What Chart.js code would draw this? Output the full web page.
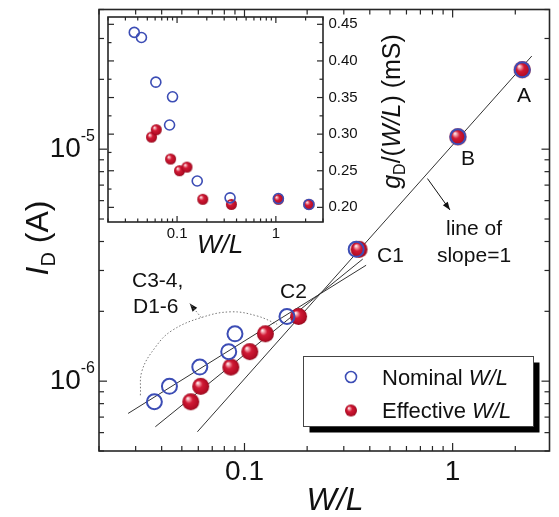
<!DOCTYPE html>
<html>
<head>
<meta charset="utf-8">
<script src="https://cdn.jsdelivr.net/npm/chart.js@4"></script>
<style>
  body { margin: 0; background: #fff; }
  #wrap { position: relative; width: 559px; height: 517px; }
  #wrap canvas { position: absolute; left: 0; top: 0; }
</style>
</head>
<body>
<div id="wrap">
  <canvas id="main" width="559" height="517"></canvas>
  <canvas id="inset" width="559" height="517"></canvas>
</div>
<script>
// same devices, nominal vs effective W/L
const nominalWL    = [0.0369, 0.0436, 0.061, 0.084, 0.090, 0.160, 0.344, 1.06, 2.16];
const effectiveWL  = [0.0552, 0.0616, 0.086, 0.106, 0.126, 0.182, 0.355, 1.06, 2.16];
const drainCurrent = [8.15e-7, 9.5e-7, 1.15e-6, 1.34e-6, 1.60e-6, 1.90e-6, 3.7e-6, 1.13e-5, 2.2e-5];
// inset: gD/(W/L) in mS
const gdNominal   = [0.439, 0.432, 0.371, 0.3125, 0.351, 0.236, 0.213, 0.212, 0.204];
const gdEffective = [0.296, 0.306, 0.266, 0.250, 0.255, 0.211, 0.204, 0.211, 0.204];

// fitted lines, end points
const fitNominalX   = [0.0276, 0.384];
const fitNominalY   = [7.26e-7, 3.16e-6];
const fitEffectiveX = [0.0373, 0.370];
const fitEffectiveY = [6.36e-7, 3.36e-6];
const slopeOneX     = [0.0594, 2.40];
const slopeOneY     = [6.05e-7, 2.52e-5];

// dotted bracket round C3-4, D1-6 and the two arrows
const arcX = [0.0316, 0.0322, 0.0373, 0.0447, 0.0620, 0.0861, 0.115, 0.1435];
const arcY = [8.69e-7, 1.11e-6, 1.40e-6, 1.65e-6, 1.88e-6, 1.99e-6, 1.91e-6, 1.76e-6];
const arcArrowX = [0.062, 0.0546];
const arcArrowY = [1.88e-6, 2.16e-6];
const slopeArrowX = [0.757, 0.971];
const slopeArrowY = [7.47e-6, 5.47e-6];

// ticks
const mainXMajor = [0.1, 1];
const mainXLabels = ['0.1', '1'];
const mainYMajor = [1e-6, 1e-5];
const mainYExp = ['-6', '-5'];
const insetXMajor = [0.1, 1];
const insetXLabels = ['0.1', '1'];
const insetYMajor = [0.20, 0.25, 0.30, 0.35, 0.40, 0.45];
const insetYLabels = ['0.20', '0.25', '0.30', '0.35', '0.40', '0.45'];
const insetYMinor = [0.225, 0.275, 0.325, 0.375, 0.425];

const FONT = '"Liberation Sans", Arial, sans-serif';
const blue = '#3c4db5';

function logMinor(lo, hi) {
  let out = [];
  for (let e = Math.floor(Math.log10(lo)); e <= Math.ceil(Math.log10(hi)); e++) {
    for (let m = 2; m <= 9; m++) {
      let v = m * Math.pow(10, e);
      if (v >= lo && v <= hi) out.push(v);
    }
  }
  return out;
}

function pts(xs, ys) {
  return xs.map((x, i) => ({x: x, y: ys[i]}));
}

function sphere(r) {
  const c = document.createElement('canvas');
  const s = Math.ceil(r * 2 + 2);
  c.width = c.height = s;
  const g = c.getContext('2d');
  const cx = s / 2, cy = s / 2;
  const grad = g.createRadialGradient(cx - r * 0.38, cy - r * 0.42, r * 0.04, cx, cy, r);
  grad.addColorStop(0, '#fff6f6');
  grad.addColorStop(0.16, '#f3a0aa');
  grad.addColorStop(0.42, '#d11a35');
  grad.addColorStop(0.85, '#b40c25');
  grad.addColorStop(1, '#900a1d');
  g.fillStyle = grad;
  g.beginPath();
  g.arc(cx, cy, r, 0, Math.PI * 2);
  g.fill();
  return c;
}

// text made of pieces with own font and vertical shift
function rich(ctx, parts, x, y, align) {
  let w = 0;
  parts.forEach(p => { ctx.font = p[1]; w += ctx.measureText(p[0]).width; });
  let cx = align == 'center' ? x - w / 2 : align == 'right' ? x - w : x;
  ctx.textAlign = 'left';
  ctx.textBaseline = 'alphabetic';
  parts.forEach(p => {
    ctx.font = p[1];
    ctx.fillText(p[0], cx, y + (p[2] || 0));
    cx += ctx.measureText(p[0]).width;
  });
}

function line(ctx, x1, y1, x2, y2) {
  ctx.beginPath();
  ctx.moveTo(x1, y1);
  ctx.lineTo(x2, y2);
  ctx.stroke();
}

// box + inward ticks on all four sides
function frameTicks(chart, xMajor, xMinor, yMajor, yMinor, bigLen, smallLen) {
  const {ctx, chartArea: a, scales: {x, y}} = chart;
  ctx.save();
  ctx.strokeStyle = '#262626';
  ctx.lineWidth = 1.6;
  ctx.strokeRect(a.left, a.top, a.width, a.height);
  ctx.lineWidth = 1.2;
  const tx = (v, len) => {
    const p = x.getPixelForValue(v);
    line(ctx, p, a.bottom, p, a.bottom - len);
    line(ctx, p, a.top, p, a.top + len);
  };
  const ty = (v, len) => {
    const p = y.getPixelForValue(v);
    line(ctx, a.left, p, a.left + len, p);
    line(ctx, a.right, p, a.right - len, p);
  };
  xMajor.forEach(v => tx(v, bigLen));
  xMinor.forEach(v => tx(v, smallLen));
  yMajor.forEach(v => ty(v, bigLen));
  yMinor.forEach(v => ty(v, smallLen));
  ctx.restore();
}

function arrowHead(ctx, from, to, len, wid) {
  const ang = Math.atan2(to.y - from.y, to.x - from.x);
  ctx.save();
  ctx.translate(to.x, to.y);
  ctx.rotate(ang);
  ctx.beginPath();
  ctx.moveTo(0, 0);
  ctx.lineTo(-len, -wid / 2);
  ctx.lineTo(-len, wid / 2);
  ctx.closePath();
  ctx.fill();
  ctx.restore();
}

const mainPlugin = {
  id: 'mainDeco',
  beforeDatasetsDraw(chart) {
    const {ctx} = chart;
    // arrow heads at the end of flagged datasets
    ctx.save();
    ctx.fillStyle = '#111';
    chart.data.datasets.forEach((ds, i) => {
      if (!ds.arrow) return;
      const el = chart.getDatasetMeta(i).data;
      arrowHead(ctx, el[el.length - 2], el[el.length - 1], 8, 6);
    });
    ctx.restore();
  },
  afterDatasetsDraw(chart) {
    const {ctx, scales: {x, y}} = chart;
    frameTicks(chart, mainXMajor, logMinor(0.02, 2.92).filter(v => !mainXMajor.includes(v)),
      mainYMajor, logMinor(5e-7, 4e-5).filter(v => !mainYMajor.includes(v)), 8, 5);

    ctx.save();
    ctx.fillStyle = '#111';
    mainXMajor.forEach((v, i) => {
      rich(ctx, [[mainXLabels[i], '28px ' + FONT]], x.getPixelForValue(v), 480, 'center');
    });
    mainYMajor.forEach((v, i) => {
      const p = y.getPixelForValue(v);
      rich(ctx, [['10', '28px ' + FONT], [mainYExp[i], '16px ' + FONT, -16]], 95, p + 8, 'right');
    });
    rich(ctx, [['W/L', 'italic 32px ' + FONT]], 335, 510, 'center');
    ctx.save();
    ctx.translate(48, 238);
    ctx.rotate(-Math.PI / 2);
    rich(ctx, [['I', 'italic 32px ' + FONT], ['D', '20px ' + FONT, 7], [' (A)', '32px ' + FONT]], 0, 0, 'center');
    ctx.restore();

    // point labels
    const f = '21px ' + FONT;
    rich(ctx, [['A', f]], 524, 102, 'center');
    rich(ctx, [['B', f]], 468, 165, 'center');
    rich(ctx, [['C1', f]], 377, 262, 'left');
    rich(ctx, [['C2', f]], 280, 298, 'left');
    rich(ctx, [['C3-4,', f]], 132, 287, 'left');
    rich(ctx, [['D1-6', f]], 133, 313, 'left');
    rich(ctx, [['line of', f]], 474, 235, 'center');
    rich(ctx, [['slope=1', f]], 474, 262, 'center');

    // legend box with shadow
    const lx = 303.5, ly = 356.5, lw = 230, lh = 70;
    ctx.fillStyle = '#000';
    ctx.fillRect(lx + 6, ly + 6, lw, lh);
    ctx.fillStyle = '#fff';
    ctx.fillRect(lx, ly, lw, lh);
    ctx.strokeStyle = '#444';
    ctx.lineWidth = 1;
    ctx.strokeRect(lx, ly, lw, lh);
    ctx.strokeStyle = blue;
    ctx.lineWidth = 1.6;
    ctx.beginPath();
    ctx.arc(351, 377, 5.5, 0, Math.PI * 2);
    ctx.stroke();
    const s = sphere(6);
    ctx.drawImage(s, 351 - s.width / 2, 410.5 - s.height / 2);
    ctx.fillStyle = '#111';
    const lf = '22px ' + FONT, li = 'italic 22px ' + FONT;
    rich(ctx, [['Nominal ', lf], ['W/L', li]], 382, 385, 'left');
    rich(ctx, [['Effective ', lf], ['W/L', li]], 382, 418, 'left');
    ctx.restore();
  }
};

const insetPlugin = {
  id: 'insetDeco',
  beforeDatasetsDraw(chart) {
    const {ctx, chartArea: a} = chart;
    ctx.save();
    ctx.fillStyle = '#fff';
    ctx.fillRect(a.left, a.top, a.width, a.height);
    ctx.restore();
  },
  afterDatasetsDraw(chart) {
    const {ctx, chartArea: a, scales: {x, y}} = chart;
    frameTicks(chart, insetXMajor, logMinor(0.02, 3).filter(v => !insetXMajor.includes(v)),
      insetYMajor, insetYMinor, 6, 3.5);
    ctx.save();
    ctx.fillStyle = '#111';
    insetXMajor.forEach((v, i) => {
      rich(ctx, [[insetXLabels[i], '15px ' + FONT]], x.getPixelForValue(v), 238, 'center');
    });
    insetYMajor.forEach((v, i) => {
      ctx.font = '15px ' + FONT;
      ctx.textAlign = 'left';
      ctx.textBaseline = 'middle';
      ctx.fillText(insetYLabels[i], a.right + 5.5, y.getPixelForValue(v));
    });
    rich(ctx, [['W/L', 'italic 26px ' + FONT]], 220, 253, 'center');
    ctx.translate(400, 111.5);
    ctx.rotate(-Math.PI / 2);
    rich(ctx, [['g', 'italic 25px ' + FONT], ['D', '16px ' + FONT, 5], ['/(', '25px ' + FONT],
      ['W/L', 'italic 25px ' + FONT], [') (mS)', '25px ' + FONT]], 0, 0, 'center');
    ctx.restore();
  }
};

const lineSet = (xs, ys) => ({
  data: pts(xs, ys), showLine: true, borderColor: '#333', borderWidth: 1, pointRadius: 0
});

new Chart(document.getElementById('main'), {
  type: 'scatter',
  data: {
    datasets: [{
      label: 'Nominal W/L',
      data: pts(nominalWL, drainCurrent),
      pointStyle: 'circle',
      pointRadius: 7.5,
      pointBorderWidth: 2,
      pointBorderColor: blue,
      pointBackgroundColor: 'rgba(0,0,0,0)'
    }, {
      label: 'Effective W/L',
      data: pts(effectiveWL, drainCurrent),
      pointStyle: sphere(8.5),
      pointRadius: 8.5
    },
    lineSet(fitNominalX, fitNominalY),
    lineSet(fitEffectiveX, fitEffectiveY),
    lineSet(slopeOneX, slopeOneY),
    {
      data: pts(arcX, arcY), showLine: true, tension: 0.4, borderColor: '#777',
      borderWidth: 1, borderDash: [1.5, 2], pointRadius: 0
    }, {
      data: pts(arcArrowX, arcArrowY), showLine: true, borderColor: '#777',
      borderWidth: 1, borderDash: [1.5, 2], pointRadius: 0, arrow: true
    }, {
      data: pts(slopeArrowX, slopeArrowY), showLine: true, borderColor: '#111',
      borderWidth: 1, pointRadius: 0, arrow: true
    }]
  },
  options: {
    responsive: false,
    animation: false,
    events: [],
    layout: {padding: {left: 99, top: 7, right: 2, bottom: 66}},
    scales: {
      x: {type: 'logarithmic', min: 0.02, max: 2.92, display: false},
      y: {type: 'logarithmic', min: 5e-7, max: 4e-5, display: false}
    },
    plugins: {legend: {display: false}, tooltip: {enabled: false}}
  },
  plugins: [mainPlugin]
});

new Chart(document.getElementById('inset'), {
  type: 'scatter',
  data: {
    datasets: [{
      label: 'Nominal W/L',
      data: pts(nominalWL, gdNominal),
      pointStyle: 'circle',
      pointRadius: 5,
      pointBorderWidth: 1.6,
      pointBorderColor: blue,
      pointBackgroundColor: 'rgba(0,0,0,0)'
    }, {
      label: 'Effective W/L',
      data: pts(effectiveWL, gdEffective),
      pointStyle: sphere(5.5),
      pointRadius: 5.5
    }]
  },
  options: {
    responsive: false,
    animation: false,
    events: [],
    layout: {padding: {left: 108, top: 17, right: 236, bottom: 295}},
    scales: {
      x: {type: 'logarithmic', min: 0.02, max: 3, display: false},
      y: {type: 'linear', min: 0.18, max: 0.46, display: false}
    },
    plugins: {legend: {display: false}, tooltip: {enabled: false}}
  },
  plugins: [insetPlugin]
});
</script>
</body>
</html>
